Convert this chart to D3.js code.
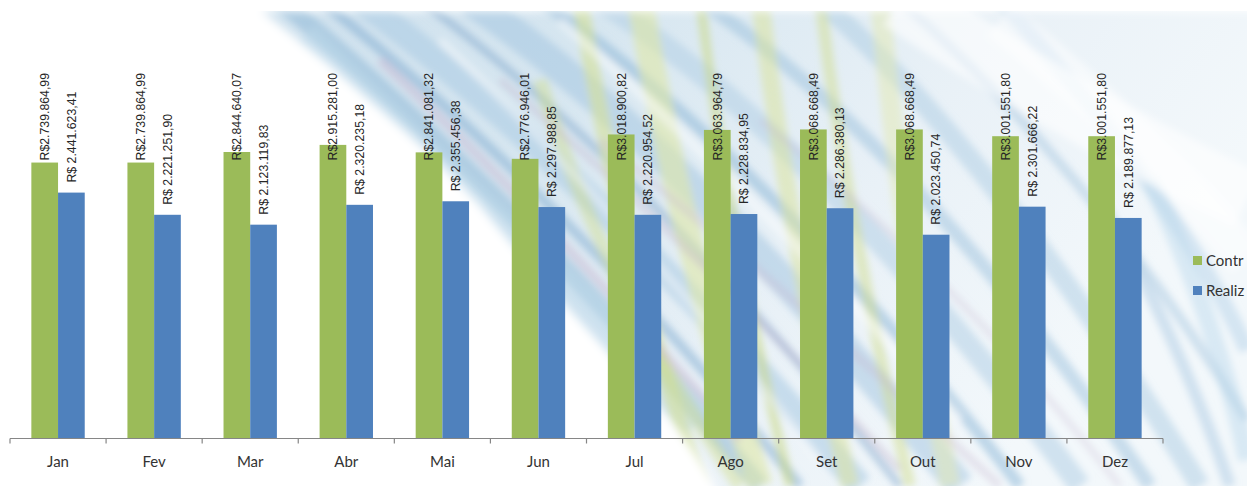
<!DOCTYPE html>
<html>
<head>
<meta charset="utf-8">
<script src="https://cdn.jsdelivr.net/npm/d3@7"></script>
<style>
  html, body { margin: 0; padding: 0; background: #ffffff; }
  svg { display: block; }
</style>
</head>
<body>
<svg id="chart" width="1247" height="486"></svg>
<script>
// ---- data ----
const months = ["Jan","Fev","Mar","Abr","Mai","Jun","Jul","Ago","Set","Out","Nov","Dez"];
const contratado = [2739864.99, 2739864.99, 2844640.07, 2915281.00, 2841081.32, 2776946.01,
                    3018900.82, 3063964.79, 3068668.49, 3068668.49, 3001551.80, 3001551.80];
const realizado  = [2441623.41, 2221251.90, 2123119.83, 2320235.18, 2355456.38, 2297988.85,
                    2220954.52, 2228834.95, 2286380.13, 2023450.74, 2301666.22, 2189877.13];
const seriesNames = ["Contratado", "Realizado"];
const legendLabels = ["Contr", "Realiz"]; // as visible (cut by the picture edge)
const yMax = 3500000;

// ---- setup ----
const W = 1247, H = 486;
const svg = d3.select("#chart");
const defs = svg.append("defs");

// decorative background swoosh (soft-edged mask)
const softEdge = defs.append("filter").attr("id", "softedge")
  .attr("x", "-10%").attr("y", "-10%").attr("width", "120%").attr("height", "120%");
softEdge.append("feGaussianBlur").attr("stdDeviation", 5);
const mask = defs.append("mask").attr("id", "bgmask").attr("maskUnits", "userSpaceOnUse")
  .attr("x", 0).attr("y", 0).attr("width", W).attr("height", H);
mask.append("path")
  .attr("d", "M262,11 L1300,11 L1300,520 L720,520 L715,486 C690,440 660,410 640,390 C600,340 540,280 480,205 C420,140 380,110 330,65 Z")
  .attr("fill", "#ffffff").attr("filter", "url(#softedge)");
defs.append("clipPath").attr("id", "topclip")
  .append("rect").attr("x", 0).attr("y", 11).attr("width", W).attr("height", H);

const blur = defs.append("filter").attr("id", "blur")
  .attr("x", "-20%").attr("y", "-20%").attr("width", "140%").attr("height", "140%");
blur.append("feGaussianBlur").attr("stdDeviation", 3.5);

const bgGrad = defs.append("linearGradient").attr("id", "bgGrad")
  .attr("x1", "0%").attr("y1", "0%").attr("x2", "100%").attr("y2", "30%");
bgGrad.append("stop").attr("offset", "0%").attr("stop-color", "#c9ddec");
bgGrad.append("stop").attr("offset", "45%").attr("stop-color", "#d6e6f0");
bgGrad.append("stop").attr("offset", "75%").attr("stop-color", "#e9f1f7");
bgGrad.append("stop").attr("offset", "100%").attr("stop-color", "#f3f8fb");

const bgOuter = svg.append("g").attr("clip-path", "url(#topclip)");
const bg = bgOuter.append("g").attr("mask", "url(#bgmask)");
bg.append("rect").attr("x", 0).attr("y", 0).attr("width", W).attr("height", H).attr("fill", "url(#bgGrad)");

const streakG = bg.append("g").attr("filter", "url(#blur)");
// [x0,y0,cx,cy,x1,y1,width,color,opacity]
const blueStreaks = [
  [280,0, 520,200, 760,486, 18, "#95bcd9", 0.6],
  [320,0, 560,190, 800,486, 10, "#7eaad0", 0.5],
  [360,0, 600,180, 860,486, 26, "#aecde4", 0.6],
  [420,0, 650,170, 900,486, 8,  "#769fc8", 0.45],
  [470,0, 700,160, 960,486, 30, "#a0c4df", 0.5],
  [540,0, 760,150, 1020,486, 12, "#88b3d5", 0.5],
  [600,0, 830,150, 1080,486, 22, "#b2d0e6", 0.55],
  [700,0, 920,150, 1150,486, 14, "#92bad9", 0.45],
  [820,0, 1000,160, 1200,486, 20, "#a5c8e1", 0.45],
  [300,40, 500,230, 700,420, 40, "#bdd8eb", 0.55],
  [250,120, 470,260, 640,486, 26, "#b3d1e7", 0.55],
  [900,0, 1100,180, 1247,420, 10, "#96bcda", 0.4],
  [1000,0, 1180,200, 1247,350, 16, "#b0cfe6", 0.45],
  [1100,200, 1180,340, 1230,486, 12, "#a3c6e0", 0.45],
  [1150,180, 1220,330, 1247,460, 18, "#b9d6ea", 0.45]
];
const greenStreaks = [
  [580,0, 620,250, 700,486, 16, "#d5e196", 0.6],
  [640,0, 680,240, 760,486, 26, "#dfe7a6", 0.6],
  [700,0, 730,240, 790,486, 10, "#cad985", 0.55],
  [760,0, 790,250, 850,486, 18, "#dbe49f", 0.55],
  [820,0, 850,240, 910,486, 12, "#d2de8f", 0.5],
  [880,0, 900,230, 950,486, 20, "#e3eab2", 0.5],
  [540,80, 600,280, 740,486, 14, "#d0dd8c", 0.45]
];
const purpleStreaks = [
  [380,60, 560,230, 740,440, 8, "#c3b0cb", 0.45],
  [500,80, 700,250, 900,470, 6, "#c1afc9", 0.4],
  [600,140, 800,300, 1000,486, 8, "#c7b6cf", 0.35],
  [760,120, 960,280, 1120,486, 6, "#c5b4cd", 0.3]
];
const whiteStreaks = [
  [900,0, 1080,120, 1247,200, 60, "#ffffff", 0.6],
  [1000,20, 1150,140, 1247,260, 40, "#ffffff", 0.5],
  [560,20, 760,200, 960,420, 10, "#ffffff", 0.45],
  [440,40, 640,230, 820,460, 8, "#ffffff", 0.4]
];
const streakPath = s => `M${s[0]},${s[1]} Q${s[2]},${s[3]} ${s[4]},${s[5]}`;
[blueStreaks, greenStreaks, purpleStreaks, whiteStreaks].forEach(list => {
  streakG.selectAll(null).data(list).enter().append("path")
    .attr("d", streakPath)
    .attr("fill", "none")
    .attr("stroke", d => d[7])
    .attr("stroke-width", d => d[6])
    .attr("stroke-opacity", d => d[8]);
});

// ---- scales ----
const x0 = d3.scaleBand().domain(months).range([10, 1163]).paddingInner(0).paddingOuter(0);
const x1 = d3.scaleBand().domain(seriesNames).range([0, x0.bandwidth()]).paddingInner(0).paddingOuter(0.8);
const y = d3.scaleLinear().domain([0, yMax]).range([438.5, 86]);
const color = d3.scaleOrdinal().domain(seriesNames).range(["#9bbb59", "#4f81bd"]);

const rows = months.map((m, i) => ({ month: m, values: [
  { key: "Contratado", value: contratado[i] },
  { key: "Realizado", value: realizado[i] }
]}));

// ---- bars ----
const groups = svg.append("g").selectAll("g").data(rows).enter().append("g")
  .attr("transform", d => `translate(${x0(d.month)},0)`);
groups.selectAll("rect").data(d => d.values).enter().append("rect")
  .attr("x", d => x1(d.key))
  .attr("y", d => y(d.value))
  .attr("width", x1.bandwidth())
  .attr("height", d => y(0) - y(d.value))
  .attr("fill", d => color(d.key));

// ---- labels ----
const brl = d3.formatLocale({ decimal: ",", thousands: ".", grouping: [3], currency: ["R$", ""] });
const fmt = brl.format(",.2f");
const greenLabelY = y(0) - 278;
groups.selectAll("text.lbl").data(d => d.values).enter().append("text")
  .attr("class", "lbl")
  .attr("transform", d => {
    const cx = x1(d.key) + x1.bandwidth() / 2;
    const ly = d.key === "Contratado" ? greenLabelY : y(d.value) - 10;
    return `translate(${cx},${ly}) rotate(-90)`;
  })
  .attr("dy", "0.35em")
  .attr("text-anchor", "start")
  .attr("font-family", "'Liberation Sans', Arial, sans-serif")
  .attr("font-size", "12.3px")
  .attr("fill", "#262626")
  .text(d => (d.key === "Contratado" ? "R$" : "R$ ") + fmt(d.value));

// ---- axis ----
const axisG = svg.append("g");
axisG.append("line")
  .attr("x1", x0.range()[0]).attr("x2", x0.range()[1])
  .attr("y1", y(0)).attr("y2", y(0))
  .attr("stroke", "#868686").attr("stroke-width", 1.2);
const tickPos = months.map(m => x0(m)).concat([x0(months[months.length - 1]) + x0.step()]);
axisG.selectAll("line.tick").data(tickPos).enter().append("line")
  .attr("class", "tick")
  .attr("x1", d => d).attr("x2", d => d)
  .attr("y1", y(0)).attr("y2", y(0) + 5)
  .attr("stroke", "#868686").attr("stroke-width", 1.2);
const xAxis = d3.axisBottom(x0).tickSize(0).tickPadding(18);
const xa = svg.append("g").attr("transform", `translate(0,${y(0)})`).call(xAxis);
xa.select(".domain").remove();
xa.selectAll("text")
  .attr("font-family", "Lato, 'Open Sans', sans-serif")
  .attr("font-size", "15px")
  .attr("fill", "#333333");

// ---- legend ----
const legend = svg.append("g").attr("transform", "translate(1193,256)");
const li = legend.selectAll("g").data(seriesNames).enter().append("g")
  .attr("transform", (d, i) => `translate(0,${i * 30})`);
li.append("rect").attr("width", 9).attr("height", 9).attr("fill", d => color(d));
li.append("text").attr("x", 13).attr("y", 4.5).attr("dy", "0.35em")
  .attr("font-family", "Lato, 'Open Sans', sans-serif")
  .attr("font-size", "15px")
  .attr("fill", "#333333")
  .text((d, i) => legendLabels[i]);
</script>
</body>
</html>
